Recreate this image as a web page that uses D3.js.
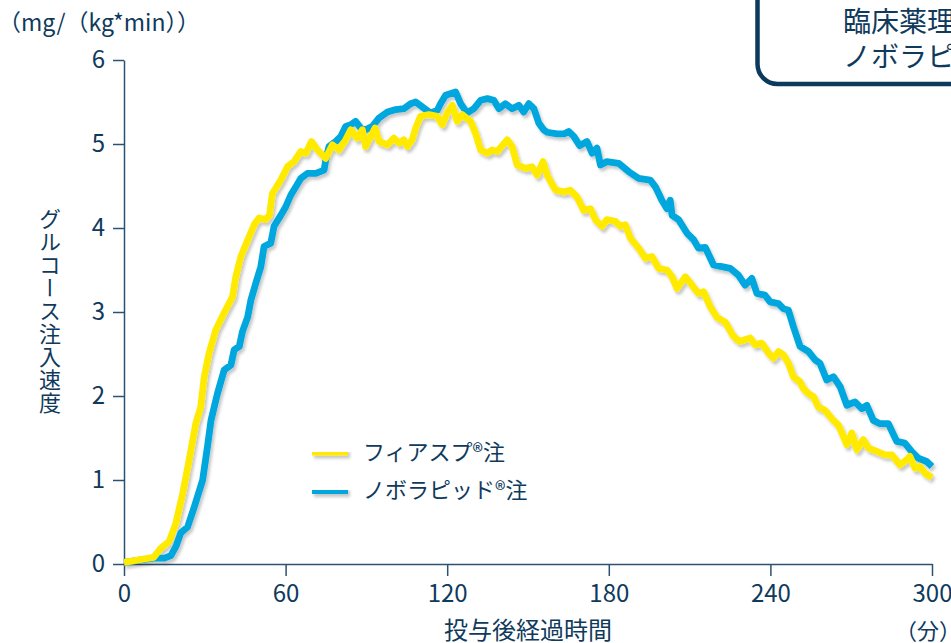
<!DOCTYPE html>
<html lang="ja">
<head>
<meta charset="utf-8">
<script src="https://cdn.jsdelivr.net/npm/d3@7"></script>
<style>
  html, body { margin: 0; padding: 0; background: #fff; }
  svg { display: block; font-family: "Noto Sans CJK JP", "Noto Sans", sans-serif; }
  .axis path, .axis line { stroke: #2b5272; stroke-width: 1.5; }
  .axis text { fill: #0f3a5c; font-size: 24px; font-family: "Noto Sans CJK JP", "Noto Sans", sans-serif; }
</style>
</head>
<body>
<div id="chart"></div>
<script>
// minutes after dosing
const fiaspTime = [0, 11, 13.7, 16.8, 19.3, 21.8, 24.2, 26.7, 28.5, 29.8, 31.6, 34.1, 37.2, 40.3, 41.5, 43.4, 46.5, 48.5, 50.2, 52.5,
  54, 55.1, 58.2, 60.7, 63.1, 65.6, 67.5, 69.6, 71.8, 74.9, 77.4, 79.8, 82.3, 84.2, 86.6, 88.5, 89.7, 91.6, 93.2, 94.7,
  97.8, 100.2, 102.1, 103.9, 105.2, 107, 108.3, 110.1, 113.2, 116.3, 118.2, 120, 121.9, 123.7, 125.6, 128.7, 130.5, 132.4, 134.9, 136.7,
  138.6, 142.3, 144.1, 146, 149.1, 151.5, 153.4, 155.6, 157.1, 160.2, 163.3, 165.7, 168.2, 170.7, 173.2, 175, 177.5, 179.3, 182.4, 184.3,
  186.1, 188, 191.1, 193.6, 196, 198.5, 201.6, 203.5, 205.3, 208.4, 210.9, 213.3, 215.2, 217.7, 220.1, 223.2, 226.3, 228.5, 232.5, 234.3,
  236.8, 239.3, 241.1, 243, 244.8, 246.7, 248.5, 251, 252.2, 254.1, 256, 257.8, 260.3, 262.8, 265.3, 267.1, 268.4, 270.2, 272.1, 274.5,
  276.4, 279.5, 282.6, 285.1, 288.1, 290.6, 291.8, 293.7, 295.5, 297.4, 300];
// glucose infusion rate, mg/(kg*min)
const fiaspRate = [0.02, 0.08, 0.19, 0.27, 0.49, 0.84, 1.24, 1.68, 1.87, 2.23, 2.51, 2.79, 2.99, 3.18, 3.42, 3.66, 3.90, 4.05, 4.12, 4.10,
  4.15, 4.41, 4.57, 4.73, 4.79, 4.91, 4.89, 5.03, 4.93, 4.83, 4.99, 4.93, 5.05, 5.17, 5.07, 5.17, 4.97, 5.09, 5.19, 5.03,
  4.99, 5.07, 5.01, 5.05, 4.97, 5.05, 5.19, 5.33, 5.35, 5.33, 5.23, 5.37, 5.46, 5.27, 5.35, 5.27, 5.13, 4.93, 4.89, 4.93,
  4.91, 5.05, 4.97, 4.75, 4.71, 4.73, 4.63, 4.79, 4.63, 4.45, 4.43, 4.45, 4.37, 4.21, 4.23, 4.10, 4.02, 4.10, 4.08, 4.02,
  4.04, 3.88, 3.76, 3.64, 3.66, 3.52, 3.50, 3.42, 3.28, 3.42, 3.32, 3.22, 3.24, 3.06, 2.94, 2.88, 2.71, 2.65, 2.69, 2.61,
  2.63, 2.51, 2.45, 2.53, 2.49, 2.39, 2.23, 2.17, 2.09, 2.03, 1.99, 1.87, 1.83, 1.73, 1.65, 1.52, 1.42, 1.56, 1.36, 1.48,
  1.38, 1.34, 1.30, 1.30, 1.18, 1.24, 1.28, 1.14, 1.16, 1.08, 1.03];

const novoTime = [0, 11, 15, 17.4, 19.3, 21.1, 23.6, 26.1, 29.2, 31, 32.3, 34.7, 37.2, 39.7, 40.9, 42.8, 44, 45.9, 47.1, 48.9,
  50.8, 52, 54.5, 55.7, 58.2, 60, 61.9, 63.8, 65.6, 68.1, 71.2, 74.3, 74.9, 76.1, 78.6, 80.5, 82.3, 84.2, 86, 87.9,
  89.7, 92.2, 94.7, 97.8, 100.9, 103.9, 106.4, 108.3, 110.8, 113.8, 116.3, 117.5, 119.4, 123.1, 125, 127.4, 129.9, 132.4, 134.9, 137.3,
  139.2, 141.6, 144.1, 146.6, 148.4, 150.3, 152.2, 154, 155.8, 157.1, 160.8, 163.3, 165.1, 167, 169.2, 171.9, 173.8, 175.6, 176.9, 179.3,
  183.7, 187.4, 191.1, 195.4, 197.3, 199.7, 201.6, 202.8, 203.5, 205.9, 209, 211.5, 213.3, 215.8, 218.9, 222, 225.1, 228.1, 230.6, 233.1,
  235, 238, 239.9, 243, 244.8, 246.7, 248.5, 251, 254.1, 256.6, 258.4, 260.9, 263.4, 265.9, 268.4, 271.4, 273.9, 275.8, 278.2, 280.7,
  283.8, 286.9, 289.9, 292.4, 294.9, 298, 300];
const novoRate = [0.02, 0.07, 0.07, 0.10, 0.21, 0.37, 0.44, 0.68, 1.00, 1.40, 1.71, 2.03, 2.31, 2.37, 2.55, 2.59, 2.77, 2.94, 3.14, 3.34,
  3.54, 3.78, 3.82, 4.02, 4.15, 4.25, 4.39, 4.49, 4.59, 4.65, 4.65, 4.69, 4.81, 4.97, 5.03, 5.09, 5.21, 5.23, 5.27, 5.19,
  5.17, 5.21, 5.31, 5.38, 5.41, 5.42, 5.48, 5.50, 5.44, 5.37, 5.40, 5.48, 5.58, 5.62, 5.48, 5.37, 5.42, 5.52, 5.54, 5.52,
  5.42, 5.48, 5.42, 5.46, 5.38, 5.48, 5.42, 5.25, 5.17, 5.14, 5.12, 5.12, 5.15, 5.09, 4.98, 5.03, 4.89, 4.95, 4.75, 4.79,
  4.77, 4.67, 4.59, 4.57, 4.49, 4.33, 4.23, 4.33, 4.15, 4.10, 3.94, 3.86, 3.76, 3.77, 3.56, 3.54, 3.52, 3.44, 3.32, 3.40,
  3.22, 3.20, 3.12, 3.10, 3.04, 3.02, 2.83, 2.59, 2.53, 2.43, 2.39, 2.19, 2.23, 2.11, 1.89, 1.93, 1.85, 1.89, 1.71, 1.67,
  1.67, 1.46, 1.44, 1.34, 1.26, 1.22, 1.16];

const xTicks = [0, 60, 120, 180, 240, 300];
const yTicks = [0, 1, 2, 3, 4, 5, 6];
const seriesNames = ["フィアスプ®注", "ノボラピッド®注"];
const seriesColors = ["#ffea00", "#00a7de"];
const boxLines = ["臨床薬理試験（海外）", "ノボラピッド®注との比較"];

const width = 951;
const height = 643;
const margin = {top: 60, right: 19, bottom: 79, left: 124};
const ink = "#0f3a5c";

const svg = d3.select("#chart")
  .append("svg")
  .attr("width", width)
  .attr("height", height);

// soft shadow under the curves; user space region so thin lines keep it
svg.append("defs")
  .append("filter")
  .attr("id", "shadow")
  .attr("filterUnits", "userSpaceOnUse")
  .attr("x", 0).attr("y", 0)
  .attr("width", width).attr("height", height)
  .append("feDropShadow")
  .attr("dx", 2).attr("dy", 3)
  .attr("stdDeviation", 1.6)
  .attr("flood-color", "#000")
  .attr("flood-opacity", 0.22);

const x = d3.scaleLinear()
  .domain([0, 300])
  .range([margin.left, width - margin.right]);

const y = d3.scaleLinear()
  .domain([0, 6])
  .range([height - margin.bottom, margin.top]);

svg.append("g")
  .attr("class", "axis")
  .attr("transform", `translate(0, ${y(0)})`)
  .call(d3.axisBottom(x).tickValues(xTicks).tickSize(12).tickSizeOuter(0).tickPadding(9))
  .call(g => g.selectAll("text").attr("dy", "0.72em"));

svg.append("g")
  .attr("class", "axis")
  .attr("transform", `translate(${x(0)}, 0)`)
  .call(d3.axisLeft(y).tickValues(yTicks).tickFormat(d3.format("d")).tickSize(11).tickSizeOuter(0).tickPadding(8));

// lines, blue underneath yellow
const series = [
  {name: seriesNames[1], color: seriesColors[1], values: novoTime.map((t, i) => [t, novoRate[i]])},
  {name: seriesNames[0], color: seriesColors[0], values: fiaspTime.map((t, i) => [t, fiaspRate[i]])},
];

const line = d3.line()
  .x(d => x(d[0]))
  .y(d => y(d[1]));

svg.append("g")
  .attr("filter", "url(#shadow)")
  .selectAll("path")
  .data(series)
  .enter()
  .append("path")
  .attr("d", d => line(d.values))
  .attr("fill", "none")
  .attr("stroke", d => d.color)
  .attr("stroke-width", 6.8)
  .attr("stroke-linejoin", "round")
  .attr("stroke-linecap", "butt");

// legend
const legend = svg.append("g")
  .selectAll("g")
  .data(seriesNames)
  .enter()
  .append("g")
  .attr("transform", (d, i) => `translate(312, ${452 + i * 38.5})`);

legend.append("line")
  .attr("x1", 0).attr("x2", 36)
  .attr("y1", 0).attr("y2", 0)
  .attr("stroke", (d, i) => seriesColors[i])
  .attr("stroke-width", 6.8)
  .attr("filter", "url(#shadow)");

legend.append("text")
  .attr("x", 51)
  .attr("dy", "0.36em")
  .attr("fill", ink)
  .style("font-size", "22px")
  .text(d => d);

// axis titles
svg.append("text")
  .attr("x", -2)
  .attr("y", 31)
  .attr("fill", ink)
  .style("font-size", "23px")
  .text("（mg/（kg*min））");

svg.append("text")
  .attr("x", 50)
  .attr("y", 208)
  .attr("fill", ink)
  .style("font-size", "22px")
  .style("writing-mode", "vertical-rl")
  .style("letter-spacing", "1px")
  .text("グルコース注入速度");

svg.append("text")
  .attr("x", (x(0) + x(300)) / 2)
  .attr("y", 639)
  .attr("text-anchor", "middle")
  .attr("fill", ink)
  .style("font-size", "24px")
  .text("投与後経過時間");

svg.append("text")
  .attr("x", 928)
  .attr("y", 639)
  .attr("text-anchor", "middle")
  .attr("fill", ink)
  .style("font-size", "22px")
  .text("（分）");

// study box, cut by the right edge
svg.append("rect")
  .attr("x", 757.5)
  .attr("y", -40)
  .attr("width", 320)
  .attr("height", 124)
  .attr("rx", 20)
  .attr("fill", "#fff")
  .attr("stroke", "#0b3a5c")
  .attr("stroke-width", 4.5);

svg.append("g")
  .selectAll("text")
  .data(boxLines)
  .enter()
  .append("text")
  .attr("x", 843)
  .attr("y", (d, i) => 32 + i * 35)
  .attr("fill", ink)
  .style("font-size", "28px")
  .text(d => d);
</script>
</body>
</html>
